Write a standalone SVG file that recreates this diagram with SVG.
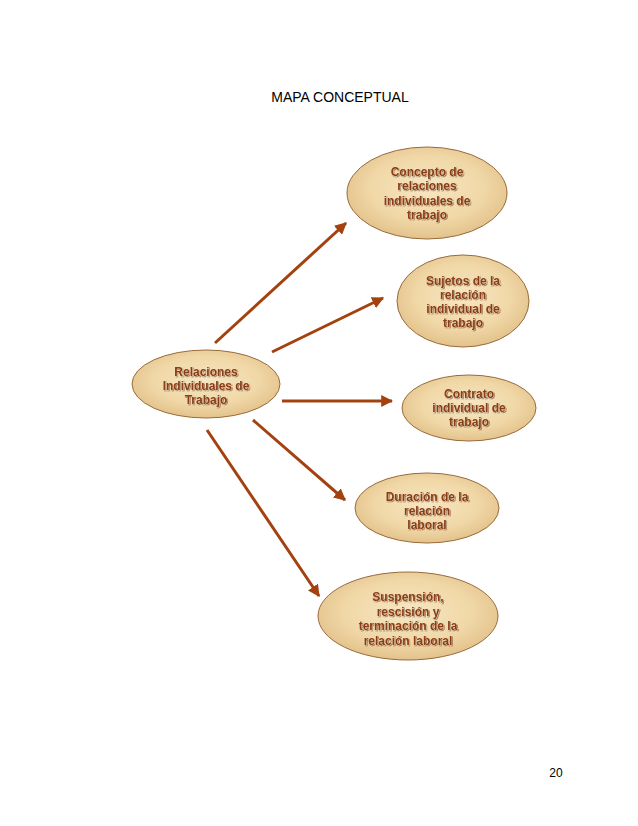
<svg xmlns="http://www.w3.org/2000/svg" width="638" height="826" viewBox="0 0 638 826">
<style>
.node ellipse{fill:url(#papyrus);stroke:#9a6a3a;stroke-width:1}
.lbl{font-family:"Liberation Sans",Arial,sans-serif;font-weight:bold;font-size:12px;fill:#8c3d14;text-anchor:middle;stroke:#f7e6c4;stroke-width:0.6;paint-order:stroke;filter:url(#shadow)}
.page{font-family:"Liberation Sans",Arial,sans-serif;fill:#000}
.conn line{stroke:#a3420f;stroke-width:3;marker-end:url(#arrow)}
</style>
<defs>
<radialGradient id="papyrus" cx="50%" cy="45%" r="60%">
<stop offset="0" stop-color="#f7e7c2"/>
<stop offset="0.6" stop-color="#f0d7a6"/>
<stop offset="1" stop-color="#dfbd85"/>
</radialGradient>
<filter id="shadow" x="-10%" y="-30%" width="120%" height="160%">
<feDropShadow dx="0.8" dy="0.8" stdDeviation="0.3" flood-color="#4a2008" flood-opacity="0.6"/>
</filter>
<marker id="arrow" viewBox="0 0 10 10" refX="9" refY="5" markerWidth="4" markerHeight="4" orient="auto" markerUnits="strokeWidth">
<path d="M0,0 L10,5 L0,10 z" fill="#a3420f"/>
</marker>
</defs>
<rect width="638" height="826" fill="#fff"/>
<text class="page" x="340" y="102" font-size="14" text-anchor="middle">MAPA CONCEPTUAL</text>
<text class="page" x="556" y="777" font-size="12" text-anchor="middle">20</text>
<g class="conn" id="connectors">
<line x1="215" y1="343" x2="346" y2="223"/>
<line x1="272" y1="352" x2="383" y2="298"/>
<line x1="282" y1="401" x2="392" y2="401"/>
<line x1="253" y1="420" x2="345" y2="500"/>
<line x1="207" y1="430" x2="319" y2="596"/>
</g>
<g class="node" id="n-relaciones">
<ellipse cx="206" cy="384" rx="74" ry="34"/>
<text class="lbl" x="206" y="376">Relaciones</text>
<text class="lbl" x="206" y="390">Individuales de</text>
<text class="lbl" x="206" y="404">Trabajo</text>
</g>
<g class="node" id="n-concepto">
<ellipse cx="427" cy="193" rx="80" ry="46"/>
<text class="lbl" x="427" y="176">Concepto de</text>
<text class="lbl" x="427" y="190">relaciones</text>
<text class="lbl" x="427" y="204.5">individuales de</text>
<text class="lbl" x="427" y="218.5">trabajo</text>
</g>
<g class="node" id="n-sujetos">
<ellipse cx="463" cy="301" rx="66" ry="46"/>
<text class="lbl" x="463" y="285">Sujetos de la</text>
<text class="lbl" x="463" y="299">relación</text>
<text class="lbl" x="463" y="313">individual de</text>
<text class="lbl" x="463" y="327">trabajo</text>
</g>
<g class="node" id="n-contrato">
<ellipse cx="469" cy="408" rx="67" ry="33"/>
<text class="lbl" x="469" y="398">Contrato</text>
<text class="lbl" x="469" y="412">individual de</text>
<text class="lbl" x="469" y="426">trabajo</text>
</g>
<g class="node" id="n-duracion">
<ellipse cx="427" cy="508" rx="72" ry="35"/>
<text class="lbl" x="427" y="501">Duración de la</text>
<text class="lbl" x="427" y="515">relación</text>
<text class="lbl" x="427" y="529">laboral</text>
</g>
<g class="node" id="n-suspension">
<ellipse cx="408" cy="616" rx="90" ry="44"/>
<text class="lbl" x="408" y="601">Suspensión,</text>
<text class="lbl" x="408" y="615.5">rescisión y</text>
<text class="lbl" x="408" y="630">terminación de la</text>
<text class="lbl" x="408" y="644.5">relación laboral</text>
</g>
</svg>
